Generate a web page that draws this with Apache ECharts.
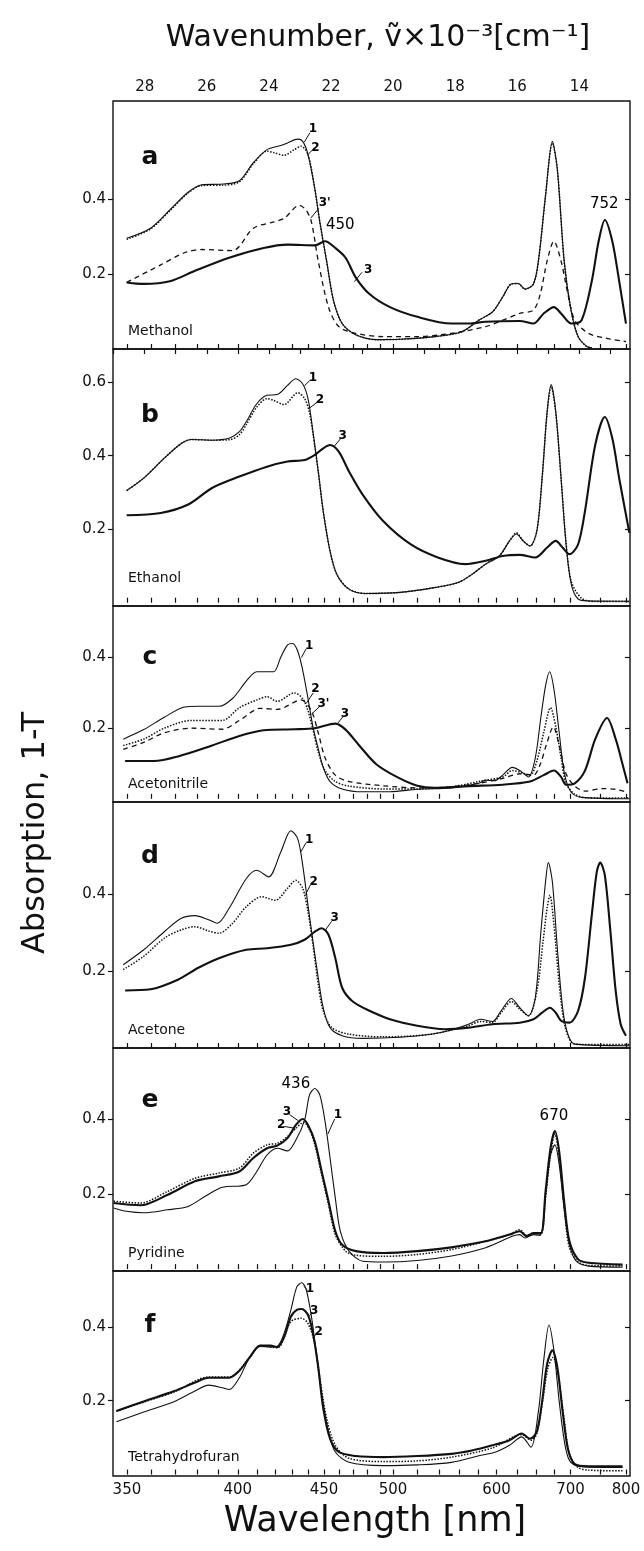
<!DOCTYPE html>
<html>
<head>
<meta charset="utf-8">
<script src="https://cdn.jsdelivr.net/npm/echarts@6/dist/echarts.min.js"></script>
<style>
  html, body { margin: 0; background: #fff; }
  #chart { width: 644px; height: 1551px; }
</style>
</head>
<body>
<div id="chart"></div>
<script>
// x values are wavenumbers in 10^3 cm^-1, y values are absorption 1-T

// a: Methanol
const a1 = [[28.58,0.296],[27.81,0.323],[27.15,0.375],[26.6,0.419],[26.16,0.439],[25.5,0.441],[24.95,0.45],[24.5,0.498],[24.06,0.533],[23.62,0.544],[23.4,0.551],[23.07,0.561],[22.91,0.555],[22.74,0.52],[22.52,0.428],[22.36,0.34],[22.14,0.235],[21.92,0.13],[21.64,0.068],[21.2,0.038],[20.54,0.025],[19.77,0.026],[18.67,0.033],[17.79,0.046],[17.24,0.077],[16.8,0.099],[16.47,0.139],[16.19,0.174],[15.97,0.175],[15.75,0.16],[15.48,0.174],[15.32,0.235],[15.09,0.41],[14.87,0.555],[14.71,0.48],[14.49,0.235],[14.27,0.104],[14.04,0.033],[13.77,0.007],[13.6,0.003]];
const a2 = [[28.58,0.293],[27.81,0.321],[27.15,0.373],[26.6,0.417],[26.16,0.437],[25.5,0.438],[24.95,0.447],[24.5,0.495],[24.06,0.529],[23.84,0.525],[23.51,0.518],[23.18,0.533],[22.96,0.542],[22.74,0.52],[22.52,0.428],[22.36,0.34],[22.14,0.235],[21.92,0.13],[21.64,0.068],[21.2,0.038],[20.54,0.025],[19.77,0.026],[18.67,0.033],[17.79,0.046],[17.24,0.077],[16.8,0.099],[16.47,0.139],[16.19,0.174],[15.97,0.175],[15.75,0.16],[15.48,0.174],[15.32,0.235],[15.09,0.41],[14.87,0.55],[14.71,0.48],[14.49,0.235],[14.27,0.104],[14.04,0.033],[13.77,0.007],[13.6,0.003]];
const a3p = [[28.58,0.178],[27.48,0.225],[26.7,0.258],[26.16,0.266],[25.17,0.263],[24.5,0.323],[23.84,0.34],[23.51,0.349],[23.02,0.384],[22.8,0.371],[22.63,0.34],[22.41,0.235],[22.08,0.112],[21.75,0.06],[21.2,0.042],[20.32,0.033],[19.22,0.033],[18.12,0.042],[17.02,0.06],[16.47,0.077],[15.92,0.095],[15.48,0.104],[15.26,0.147],[15.04,0.235],[14.82,0.288],[14.59,0.235],[14.37,0.147],[14.15,0.077],[13.71,0.042],[13.16,0.029],[12.5,0.02]];
const a3 = [[28.58,0.178],[28.03,0.174],[27.15,0.182],[26.38,0.209],[25.28,0.244],[24.17,0.27],[23.4,0.279],[22.52,0.277],[22.19,0.288],[21.86,0.27],[21.53,0.244],[21.2,0.191],[20.76,0.147],[20.1,0.112],[19.22,0.086],[18.12,0.068],[17.57,0.068],[17.02,0.073],[15.92,0.075],[15.48,0.068],[15.15,0.095],[14.82,0.112],[14.59,0.095],[14.26,0.068],[13.93,0.077],[13.6,0.182],[13.38,0.288],[13.18,0.345],[12.94,0.288],[12.72,0.182],[12.5,0.068]];

// b: Ethanol
const b1 = [[28.58,0.305],[28.03,0.339],[27.37,0.393],[26.82,0.433],[26.49,0.444],[25.83,0.442],[25.28,0.447],[24.95,0.465],[24.73,0.492],[24.39,0.541],[24.06,0.564],[23.73,0.566],[23.4,0.591],[23.13,0.609],[22.91,0.595],[22.74,0.555],[22.58,0.465],[22.41,0.357],[22.25,0.249],[22.03,0.14],[21.81,0.077],[21.42,0.037],[20.87,0.025],[19.77,0.028],[18.67,0.041],[17.9,0.055],[17.46,0.077],[17.02,0.105],[16.58,0.127],[16.25,0.168],[16.03,0.187],[15.81,0.168],[15.59,0.154],[15.37,0.195],[15.2,0.339],[15.04,0.519],[14.91,0.593],[14.76,0.519],[14.59,0.339],[14.43,0.159],[14.26,0.05],[14.04,0.01],[13.71,0.005],[12.39,0.004]];
const b2 = [[28.58,0.305],[28.03,0.339],[27.37,0.393],[26.82,0.433],[26.49,0.444],[25.83,0.442],[25.28,0.443],[24.95,0.457],[24.73,0.484],[24.39,0.532],[24.06,0.555],[23.84,0.55],[23.51,0.539],[23.07,0.571],[22.85,0.555],[22.7,0.52],[22.58,0.46],[22.41,0.357],[22.25,0.249],[22.03,0.14],[21.81,0.077],[21.42,0.037],[20.87,0.025],[19.77,0.028],[18.67,0.041],[17.9,0.055],[17.46,0.077],[17.02,0.105],[16.58,0.127],[16.25,0.168],[16.03,0.19],[15.81,0.168],[15.59,0.154],[15.37,0.195],[15.2,0.339],[15.04,0.515],[14.91,0.588],[14.76,0.515],[14.59,0.339],[14.43,0.165],[14.26,0.058],[13.93,0.012],[13.5,0.003],[12.39,0.003]];
const b3 = [[28.58,0.238],[27.48,0.244],[26.6,0.267],[25.83,0.312],[24.95,0.343],[24.06,0.37],[23.4,0.384],[22.85,0.388],[22.52,0.402],[22.25,0.42],[22.03,0.429],[21.75,0.411],[21.42,0.357],[20.98,0.294],[20.32,0.222],[19.44,0.159],[18.56,0.123],[17.68,0.105],[17.02,0.114],[16.47,0.127],[15.92,0.13],[15.42,0.123],[15.04,0.15],[14.76,0.168],[14.54,0.15],[14.32,0.132],[14.04,0.159],[13.82,0.249],[13.49,0.429],[13.18,0.505],[12.94,0.447],[12.72,0.339],[12.39,0.19]];

// c: Acetonitrile
const c1 = [[28.69,0.169],[28.03,0.196],[27.37,0.231],[26.71,0.26],[26.27,0.262],[25.61,0.262],[25.17,0.284],[24.73,0.333],[24.39,0.36],[24.06,0.36],[23.84,0.36],[23.62,0.4],[23.4,0.436],[23.24,0.44],[23.07,0.418],[22.91,0.364],[22.74,0.284],[22.58,0.204],[22.41,0.142],[22.25,0.089],[22.03,0.049],[21.64,0.028],[20.98,0.02],[20.1,0.02],[19.22,0.027],[18.12,0.031],[17.24,0.044],[17.02,0.053],[16.74,0.051],[16.47,0.067],[16.16,0.089],[15.92,0.08],[15.64,0.062],[15.42,0.116],[15.24,0.231],[15.09,0.32],[14.96,0.36],[14.82,0.311],[14.65,0.187],[14.48,0.071],[14.26,0.018],[13.93,0.004],[12.39,0.0]];
const c2 = [[28.69,0.151],[28.03,0.169],[27.37,0.2],[26.49,0.222],[25.5,0.222],[24.95,0.258],[24.39,0.28],[24.06,0.289],[23.73,0.276],[23.18,0.3],[22.91,0.284],[22.74,0.249],[22.58,0.196],[22.41,0.133],[22.19,0.08],[21.86,0.049],[21.42,0.036],[20.32,0.028],[19.22,0.028],[18.12,0.034],[17.24,0.049],[16.47,0.062],[16.16,0.08],[15.92,0.076],[15.59,0.067],[15.37,0.107],[15.15,0.187],[14.93,0.258],[14.76,0.204],[14.59,0.116],[14.43,0.044],[14.15,0.013],[13.71,0.002],[12.39,0.002]];
const c3p = [[28.69,0.14],[28.03,0.16],[27.37,0.187],[26.49,0.2],[25.5,0.197],[24.95,0.222],[24.28,0.256],[23.73,0.253],[22.96,0.28],[22.63,0.249],[22.41,0.187],[22.19,0.116],[21.86,0.067],[21.42,0.049],[20.32,0.037],[19.22,0.031],[18.12,0.034],[17.24,0.044],[16.47,0.058],[15.92,0.071],[15.48,0.067],[15.26,0.098],[15.04,0.16],[14.84,0.204],[14.65,0.151],[14.43,0.071],[14.15,0.036],[13.82,0.022],[13.27,0.029],[12.83,0.027],[12.45,0.018]];
const c3 = [[28.63,0.107],[27.7,0.107],[26.93,0.12],[25.83,0.151],[24.95,0.178],[24.17,0.194],[23.18,0.197],[22.52,0.2],[21.86,0.213],[21.53,0.196],[21.09,0.151],[20.54,0.098],[19.88,0.062],[19.22,0.037],[18.67,0.031],[17.57,0.036],[16.47,0.04],[15.59,0.049],[15.15,0.067],[14.82,0.08],[14.59,0.062],[14.43,0.04],[14.15,0.044],[13.82,0.08],[13.49,0.169],[13.11,0.229],[12.83,0.169],[12.61,0.098],[12.45,0.044]];

// d: Acetone
const d1 = [[28.69,0.217],[28.03,0.256],[27.37,0.303],[26.82,0.338],[26.38,0.345],[25.94,0.334],[25.66,0.325],[25.28,0.364],[24.73,0.441],[24.39,0.463],[24.01,0.446],[23.62,0.51],[23.29,0.566],[23.07,0.545],[22.91,0.476],[22.74,0.372],[22.58,0.278],[22.41,0.183],[22.25,0.105],[22.03,0.053],[21.64,0.032],[20.98,0.025],[19.77,0.028],[18.78,0.036],[18.12,0.047],[17.57,0.062],[17.18,0.075],[16.8,0.069],[16.52,0.097],[16.19,0.129],[15.92,0.105],[15.64,0.084],[15.42,0.131],[15.24,0.303],[15.09,0.433],[15.0,0.483],[14.87,0.433],[14.71,0.26],[14.54,0.105],[14.37,0.036],[14.15,0.01],[12.39,0.006]];
const d2 = [[28.69,0.204],[28.03,0.239],[27.37,0.286],[26.82,0.308],[26.38,0.316],[25.94,0.305],[25.61,0.299],[25.17,0.325],[24.73,0.368],[24.23,0.394],[23.79,0.385],[23.4,0.416],[23.13,0.437],[22.91,0.416],[22.74,0.355],[22.58,0.269],[22.41,0.166],[22.25,0.097],[21.97,0.053],[21.42,0.036],[20.32,0.029],[18.78,0.036],[17.57,0.058],[17.18,0.069],[16.8,0.066],[16.52,0.092],[16.19,0.121],[15.92,0.101],[15.64,0.084],[15.37,0.148],[15.17,0.278],[15.04,0.364],[14.95,0.398],[14.82,0.321],[14.65,0.166],[14.48,0.062],[14.26,0.015],[13.93,0.009],[12.39,0.009]];
const d3 = [[28.63,0.15],[27.81,0.153],[26.93,0.178],[26.27,0.209],[25.61,0.234],[24.73,0.256],[24.06,0.26],[23.29,0.269],[22.85,0.282],[22.52,0.303],[22.3,0.312],[22.08,0.295],[21.86,0.234],[21.64,0.157],[21.31,0.122],[20.76,0.097],[20.1,0.075],[19.22,0.058],[18.34,0.049],[17.57,0.053],[16.8,0.062],[15.92,0.066],[15.48,0.075],[15.2,0.092],[14.95,0.105],[14.76,0.092],[14.59,0.071],[14.32,0.066],[14.04,0.097],[13.82,0.183],[13.6,0.347],[13.44,0.459],[13.33,0.483],[13.18,0.45],[13.0,0.303],[12.83,0.148],[12.67,0.062],[12.5,0.032]];

// e: Pyridine
const e1 = [[29.0,0.163],[28.58,0.154],[28.03,0.15],[27.26,0.158],[26.6,0.167],[26.05,0.194],[25.5,0.218],[24.73,0.225],[24.39,0.26],[24.06,0.304],[23.73,0.322],[23.4,0.315],[23.13,0.344],[22.85,0.397],[22.69,0.464],[22.52,0.481],[22.36,0.464],[22.19,0.393],[22.03,0.296],[21.86,0.189],[21.7,0.101],[21.42,0.048],[20.98,0.021],[20.32,0.019],[19.22,0.023],[18.12,0.035],[17.02,0.057],[16.14,0.088],[15.92,0.092],[15.75,0.083],[15.48,0.092],[15.26,0.09],[15.09,0.198],[14.93,0.304],[14.79,0.331],[14.65,0.278],[14.48,0.154],[14.32,0.065],[14.1,0.021],[13.71,0.008],[12.61,0.005]];
const e2 = [[29.0,0.181],[28.14,0.176],[27.26,0.207],[26.38,0.242],[25.61,0.256],[24.95,0.269],[24.5,0.309],[24.06,0.331],[23.73,0.335],[23.4,0.353],[23.13,0.375],[22.88,0.391],[22.69,0.371],[22.52,0.331],[22.3,0.251],[22.08,0.172],[21.86,0.092],[21.53,0.048],[21.2,0.037],[20.32,0.034],[19.22,0.039],[18.12,0.052],[17.02,0.074],[16.25,0.092],[15.92,0.105],[15.7,0.09],[15.48,0.096],[15.24,0.092],[15.09,0.189],[14.93,0.304],[14.79,0.36],[14.65,0.296],[14.48,0.154],[14.32,0.057],[14.04,0.019],[13.71,0.01],[12.61,0.008]];
const e3 = [[29.0,0.176],[28.14,0.17],[27.26,0.198],[26.38,0.234],[25.61,0.247],[24.95,0.26],[24.5,0.296],[24.06,0.322],[23.73,0.329],[23.4,0.349],[23.13,0.384],[22.91,0.4],[22.74,0.384],[22.52,0.34],[22.3,0.26],[22.08,0.181],[21.86,0.101],[21.64,0.065],[21.2,0.048],[20.32,0.043],[19.22,0.048],[18.12,0.058],[17.02,0.074],[16.25,0.092],[15.92,0.101],[15.7,0.088],[15.48,0.096],[15.24,0.096],[15.09,0.207],[14.93,0.322],[14.79,0.368],[14.65,0.313],[14.48,0.172],[14.32,0.074],[14.04,0.026],[13.71,0.017],[12.61,0.012]];

// f: Tetrahydrofuran
const f1 = [[28.91,0.143],[28.03,0.169],[27.04,0.198],[26.38,0.226],[25.94,0.242],[25.5,0.235],[25.28,0.23],[24.95,0.262],[24.62,0.317],[24.28,0.347],[23.95,0.345],[23.73,0.347],[23.51,0.382],[23.29,0.446],[23.1,0.508],[22.94,0.519],[22.8,0.501],[22.63,0.428],[22.47,0.327],[22.3,0.217],[22.08,0.116],[21.86,0.061],[21.42,0.033],[20.32,0.024],[19.22,0.026],[18.12,0.033],[17.24,0.051],[16.69,0.061],[16.25,0.079],[15.86,0.102],[15.56,0.074],[15.32,0.171],[15.15,0.308],[14.98,0.405],[14.82,0.336],[14.65,0.198],[14.48,0.088],[14.32,0.038],[14.04,0.022],[12.61,0.019]];
const f2 = [[28.91,0.171],[28.03,0.196],[27.04,0.224],[25.94,0.264],[25.28,0.264],[24.62,0.316],[24.28,0.349],[23.73,0.343],[23.29,0.414],[22.96,0.423],[22.74,0.409],[22.52,0.354],[22.36,0.263],[22.14,0.152],[21.86,0.079],[21.42,0.044],[20.32,0.035],[19.22,0.037],[18.12,0.047],[16.8,0.072],[15.86,0.108],[15.56,0.093],[15.37,0.111],[15.17,0.207],[15.01,0.29],[14.85,0.317],[14.69,0.272],[14.48,0.143],[14.32,0.056],[14.04,0.019],[13.71,0.012],[12.61,0.01]];
const f3 = [[28.91,0.172],[28.03,0.198],[27.04,0.226],[26.38,0.249],[25.94,0.262],[25.28,0.262],[24.95,0.281],[24.62,0.317],[24.28,0.349],[23.95,0.349],[23.73,0.345],[23.51,0.372],[23.29,0.428],[23.1,0.446],[22.94,0.448],[22.74,0.432],[22.58,0.382],[22.41,0.29],[22.25,0.18],[22.03,0.097],[21.75,0.061],[21.2,0.05],[20.32,0.047],[19.22,0.05],[18.12,0.056],[17.46,0.065],[16.8,0.079],[16.25,0.093],[15.86,0.111],[15.59,0.097],[15.37,0.116],[15.2,0.198],[15.04,0.299],[14.87,0.336],[14.71,0.29],[14.54,0.171],[14.37,0.07],[14.15,0.028],[13.71,0.022],[12.61,0.022]];

// axes
const nmLabels = [350, 400, 450, 500, 600, 700, 800];
const nmTicks = [350,360,370,380,390,400,410,420,430,440,450,460,470,480,490,500,520,540,560,580,600,625,650,675,700,750,800];
const kKLabels = [28, 26, 24, 22, 20, 18, 16, 14];
const kKTicks = [29, 28, 27, 26, 25, 24, 23, 22, 21, 20, 19, 18, 17, 16, 15, 14, 13];
const yTicks = [[0.2, 0.4], [0.2, 0.4, 0.6], [0.2, 0.4], [0.2, 0.4], [0.2, 0.4], [0.2, 0.4]];
const yRanges = [[0, 0.663], [-0.009, 0.69], [-0.009, 0.546], [0, 0.641], [-0.005, 0.589], [-0.004, 0.551]];

const letters = ['a', 'b', 'c', 'd', 'e', 'f'];
const solvents = ['Methanol', 'Ethanol', 'Acetonitrile', 'Acetone', 'Pyridine', 'Tetrahydrofuran'];

// curves per panel: [data, kind]
const curves = [
  [[a1, '1'], [a2, '2'], [a3p, "3'"], [a3, '3']],
  [[b1, '1'], [b2, '2'], [b3, '3']],
  [[c1, '1'], [c2, '2'], [c3p, "3'"], [c3, '3']],
  [[d1, '1'], [d2, '2'], [d3, '3']],
  [[e1, '1'], [e2, '2'], [e3, '3']],
  [[f1, '1'], [f2, '2'], [f3, '3']]
];

// annotation text [x, y, text] and leader lines [x1, y1, x2, y2]
const notes = [
  [[22.58,0.588,'1'],[22.5,0.537,'2'],[22.2,0.39,"3'"],[21.7,0.33,'450'],[20.8,0.212,'3'],[13.2,0.387,'752']],
  [[22.58,0.612,'1'],[22.36,0.552,'2'],[21.62,0.455,'3']],
  [[22.7,0.432,'1'],[22.5,0.312,'2'],[22.24,0.268,"3'"],[21.55,0.24,'3']],
  [[22.7,0.542,'1'],[22.56,0.432,'2'],[21.88,0.338,'3']],
  [[23.13,0.492,'436'],[21.78,0.412,'1'],[23.42,0.42,'3'],[23.6,0.384,'2'],[14.82,0.408,'670']],
  [[22.68,0.502,'1'],[22.54,0.442,'3'],[22.4,0.387,'2']]
];
const leaders = [
  [[22.86,0.553,22.68,0.578],[22.74,0.52,22.6,0.532],[22.65,0.35,22.4,0.375],[21.25,0.18,21.0,0.205]],
  [[22.85,0.59,22.68,0.605],[22.68,0.53,22.45,0.545],[21.9,0.425,21.7,0.445]],
  [[22.95,0.4,22.8,0.425],[22.8,0.27,22.57,0.3],[22.62,0.24,22.36,0.262],[21.8,0.212,21.62,0.232]],
  [[22.98,0.51,22.8,0.535],[22.82,0.4,22.66,0.425],[22.2,0.305,21.98,0.33]],
  [[22.1,0.36,21.88,0.4],[23.05,0.395,23.34,0.412],[23.15,0.375,23.5,0.38]],
  [[22.88,0.51,22.76,0.5],[22.7,0.43,22.6,0.438],[22.58,0.37,22.46,0.382]]
];

const FONT = 'DejaVu Sans';
const INK = '#111';
const X_MIN = 12.37, X_MAX = 29.02;
const gridBoxes = [[101, 248], [349, 257], [606, 196], [802, 246], [1048, 223], [1271, 205]];

const lineStyles = {
  '1': { width: 1.1, type: 'solid' },
  '2': { width: 1.5, type: 'dotted' },
  "3'": { width: 1.3, type: [5, 4] },
  '3': { width: 2.1, type: 'solid' }
};

const chart = echarts.init(document.getElementById('chart'), null, { renderer: 'canvas' });

const grid = [], xAxis = [], yAxis = [], series = [], graphic = [];

gridBoxes.forEach((g, p) => {
  grid.push({ left: 113, right: 14, top: g[0], height: g[1], show: true, borderColor: INK, borderWidth: 1.4, backgroundColor: 'transparent' });
  xAxis.push({
    type: 'value', gridIndex: p, position: 'bottom', min: X_MIN, max: X_MAX, inverse: true,
    axisLine: { show: false }, splitLine: { show: false },
    axisTick: { show: true, inside: true, length: 5, lineStyle: { color: INK, width: 1.2 }, customValues: nmTicks.map(n => 10000 / n) },
    axisLabel: { show: p === 5, customValues: nmLabels.map(n => 10000 / n), formatter: v => String(Math.round(10000 / v)), color: INK, fontFamily: FONT, fontSize: 15, margin: 7 }
  });
  yAxis.push({
    type: 'value', gridIndex: p, position: 'left', min: yRanges[p][0], max: yRanges[p][1],
    axisLine: { show: false }, splitLine: { show: false },
    axisTick: { show: true, length: 5, lineStyle: { color: INK, width: 1.2 }, customValues: yTicks[p] },
    axisLabel: { customValues: yTicks[p], formatter: v => v.toFixed(1), color: INK, fontFamily: FONT, fontSize: 15, margin: 7 }
  });
});
// top wavenumber axis on the first panel
xAxis.push({
  type: 'value', gridIndex: 0, position: 'top', min: X_MIN, max: X_MAX, inverse: true,
  axisLine: { show: false }, splitLine: { show: false },
  axisTick: { show: true, inside: true, length: 5, lineStyle: { color: INK, width: 1.2 }, customValues: kKTicks },
  axisLabel: { customValues: kKLabels, formatter: v => String(v), color: INK, fontFamily: FONT, fontSize: 15, margin: 6 }
});
// right-hand ticks
gridBoxes.forEach((g, p) => {
  yAxis.push({
    type: 'value', gridIndex: p, position: 'right', min: yRanges[p][0], max: yRanges[p][1],
    axisLine: { show: false }, splitLine: { show: false },
    axisTick: { show: true, inside: true, length: 5, lineStyle: { color: INK, width: 1.2 }, customValues: yTicks[p] },
    axisLabel: { show: false }
  });
});

curves.forEach((list, p) => {
  list.forEach(([data, kind]) => {
    series.push({
      type: 'line', xAxisIndex: p, yAxisIndex: p, data: data,
      showSymbol: false, smooth: 0.3, silent: true,
      lineStyle: Object.assign({ color: INK }, lineStyles[kind])
    });
  });
  series.push({
    type: 'scatter', xAxisIndex: p, yAxisIndex: p, silent: true,
    symbolSize: 1, itemStyle: { color: 'rgba(0,0,0,0)' },
    data: notes[p].map(n => ({
      value: n,
      label: { fontSize: n[2].length >= 3 ? 15 : 12, fontWeight: n[2].length >= 3 ? 'normal' : 'bold' }
    })),
    label: { show: true, position: 'inside', formatter: q => q.value[2], color: '#000', opacity: 1, fontFamily: FONT }
  });
  series.push({
    type: 'lines', coordinateSystem: 'cartesian2d', xAxisIndex: p, yAxisIndex: p, silent: true,
    lineStyle: { color: INK, width: 1, opacity: 1 },
    data: leaders[p].map(l => ({ coords: [[l[0], l[1]], [l[2], l[3]]] }))
  });

  const top = gridBoxes[p][0], h = gridBoxes[p][1];
  graphic.push({
    type: 'text', x: 150, y: top + [56, 66, 51, 54, 52, 54][p],
    style: { text: letters[p], fontFamily: FONT, fontSize: 25, fontWeight: 'bold', fill: INK, textAlign: 'center', textVerticalAlign: 'middle' }
  });
  graphic.push({
    type: 'text', x: 128, y: top + h - [18, 28, 18, 18, 18, 19][p],
    style: { text: solvents[p], fontFamily: FONT, fontSize: 14, fill: INK, textAlign: 'left', textVerticalAlign: 'middle' }
  });
});

graphic.push({
  type: 'text', x: 378, y: 38,
  style: { text: 'Wavenumber, ṽ×10⁻³[cm⁻¹]', fontFamily: FONT, fontSize: 30, fill: INK, textAlign: 'center', textVerticalAlign: 'middle' }
});
graphic.push({
  type: 'text', x: 375, y: 1522,
  style: { text: 'Wavelength [nm]', fontFamily: FONT, fontSize: 35, fill: INK, textAlign: 'center', textVerticalAlign: 'middle' }
});
graphic.push({
  type: 'text', x: 36, y: 833, rotation: Math.PI / 2,
  style: { text: 'Absorption, 1-T', fontFamily: FONT, fontSize: 32, fill: INK, textAlign: 'center', textVerticalAlign: 'middle' }
});

chart.setOption({
  animation: false,
  backgroundColor: '#fff',
  grid: grid,
  xAxis: xAxis,
  yAxis: yAxis,
  series: series,
  graphic: graphic
});
</script>
</body>
</html>
